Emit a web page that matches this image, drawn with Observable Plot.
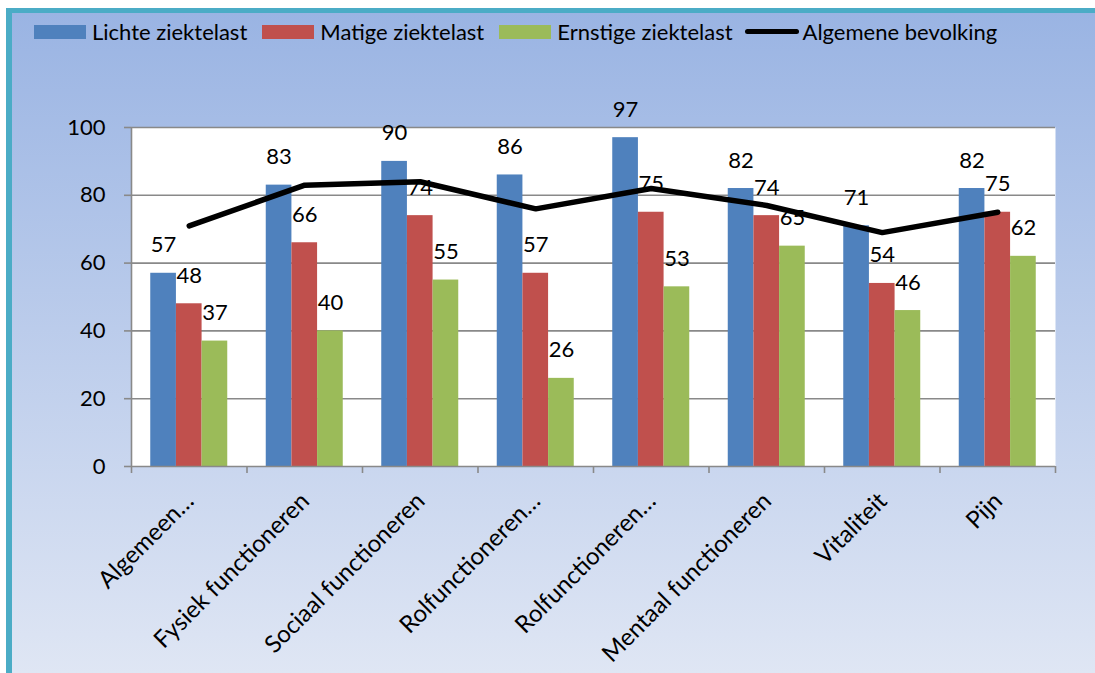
<!DOCTYPE html>
<html>
<head>
<meta charset="utf-8">
<script src="https://cdn.jsdelivr.net/npm/d3@7"></script>
<script src="https://cdn.jsdelivr.net/npm/@observablehq/plot@0.6"></script>
<style>
  html, body { margin: 0; background: #ffffff; overflow: hidden; }
  #wrap { position: relative; width: 1095px; height: 673px; overflow: hidden; font-family: Lato, "Open Sans", sans-serif; background: #ffffff; }
  #panel {
    position: absolute; left: 12px; top: 13px; width: 1083px; height: 660px;
    background: linear-gradient(to bottom, #9ab4e3 0px, #dfe6f4 660px);
  }
  #edgeTop { position: absolute; left: 6px; top: 8px; width: 1089px; height: 5px; background: #4bacc6; }
  #edgeLeft { position: absolute; left: 6px; top: 8px; width: 6px; height: 665px; background: #4bacc6; }
  #legend { position: absolute; top: 18px; left: 34px; display: flex; align-items: center; font-size: 22px; color: #000; white-space: nowrap; }
  #legend .item { display: flex; align-items: center; margin-right: 15px; }
  #legend .sw { width: 52px; height: 14px; margin-right: 6px; }
  #legend .ln { width: 54px; height: 5px; border-radius: 3px; margin-right: 4px; margin-left: -3px; }
  #chart { position: absolute; left: 0; top: 0; }
</style>
</head>
<body>
<div id="wrap">
  <div id="panel"></div>
  <div id="edgeTop"></div>
  <div id="edgeLeft"></div>
  <div id="legend"></div>
  <div id="chart"></div>
</div>
<script>
// Health domains (x axis)
const categories = [
  "Algemeen…",
  "Fysiek functioneren",
  "Sociaal functioneren",
  "Rolfunctioneren…",
  "Rolfunctioneren…",
  "Mentaal functioneren",
  "Vitaliteit",
  "Pijn"
];

// Bar series
const seriesNames = ["Lichte ziektelast", "Matige ziektelast", "Ernstige ziektelast"];
const seriesColors = ["#4f81bd", "#c0504d", "#9bbb59"];
const lichte   = [57, 83, 90, 86, 97, 82, 71, 82];
const matige   = [48, 66, 74, 57, 75, 74, 54, 75];
const ernstige = [37, 40, 55, 26, 53, 65, 46, 62];

// Reference line
const lineName = "Algemene bevolking";
const algemeen = [71, 83, 84, 76, 82, 77, 69, 75];

const yTicks = [0, 20, 40, 60, 80, 100];

// Grouped bar layout inside each category slot (slot width = 1)
const groupWidth = 2 / 3;
const barWidth = groupWidth / seriesNames.length;
const seriesValues = [lichte, matige, ernstige];

const rows = [];
seriesValues.forEach((vals, s) => {
  vals.forEach((v, i) => {
    const x1 = i + (1 - groupWidth) / 2 + s * barWidth;
    rows.push({series: seriesNames[s], cat: i, value: v, x1, x2: x1 + barWidth, xc: x1 + barWidth / 2});
  });
});
const linePts = algemeen.map((v, i) => ({x: i + 0.5, value: v}));
const catLabels = categories.map((c, i) => ({label: c, x: i + 0.5, y: 0}));

// Legend
const legend = document.getElementById("legend");
seriesNames.forEach((n, s) => {
  const it = document.createElement("div");
  it.className = "item";
  it.innerHTML = `<div class="sw" style="background:${seriesColors[s]}"></div><span>${n}</span>`;
  legend.appendChild(it);
});
{
  const it = document.createElement("div");
  it.className = "item";
  it.innerHTML = `<div class="ln" style="background:#000"></div><span>${lineName}</span>`;
  legend.appendChild(it);
}

const gridColor = "#898989";
const fontSize = 22;

const chart = Plot.plot({
  width: 1095,
  height: 673,
  marginLeft: 131,
  marginRight: 40,
  marginTop: 127,
  marginBottom: 207,
  style: {background: "transparent", fontFamily: "Lato, 'Open Sans', sans-serif", fontSize: `${fontSize}px`, color: "#000"},
  x: {type: "linear", domain: [0, categories.length], axis: null},
  y: {domain: [0, 100], axis: null},
  color: {domain: seriesNames, range: seriesColors},
  marks: [
    Plot.frame({fill: "white", stroke: null}),
    Plot.gridY(yTicks.filter(t => t > 0), {stroke: gridColor, strokeOpacity: 1, strokeWidth: 1.6}),
    Plot.rectY(rows, {x1: "x1", x2: "x2", y: "value", fill: "series"}),
    // axes
    Plot.ruleX([0], {y1: 0, y2: 100, stroke: gridColor, strokeWidth: 1.6}),
    Plot.ruleY([0], {stroke: gridColor, strokeWidth: 1.6}),
    Plot.axisY({ticks: yTicks, tickSize: 7, tickPadding: 19, stroke: gridColor, strokeWidth: 1.6, fontSize, fill: "#000", label: null}),
    Plot.axisX({ticks: d3.range(categories.length + 1), tickSize: 7, tickFormat: () => "", stroke: gridColor, strokeWidth: 1.6, label: null}),
    // value labels
    Plot.text(rows, {x: "xc", y: "value", text: d => String(d.value), dy: -28, lineAnchor: "middle", fontSize, fill: "#000"}),
    // category labels
    Plot.text(catLabels, {x: "x", y: "y", text: "label", rotate: -45, textAnchor: "end", lineAnchor: "top", dx: -6, dy: 24, fontSize: 24, fill: "#000"}),
    // population line
    Plot.line(linePts, {x: "x", y: "value", stroke: "#000", strokeWidth: 5.5, strokeLinecap: "round", strokeLinejoin: "round"})
  ]
});
document.getElementById("chart").appendChild(chart);
</script>
</body>
</html>
